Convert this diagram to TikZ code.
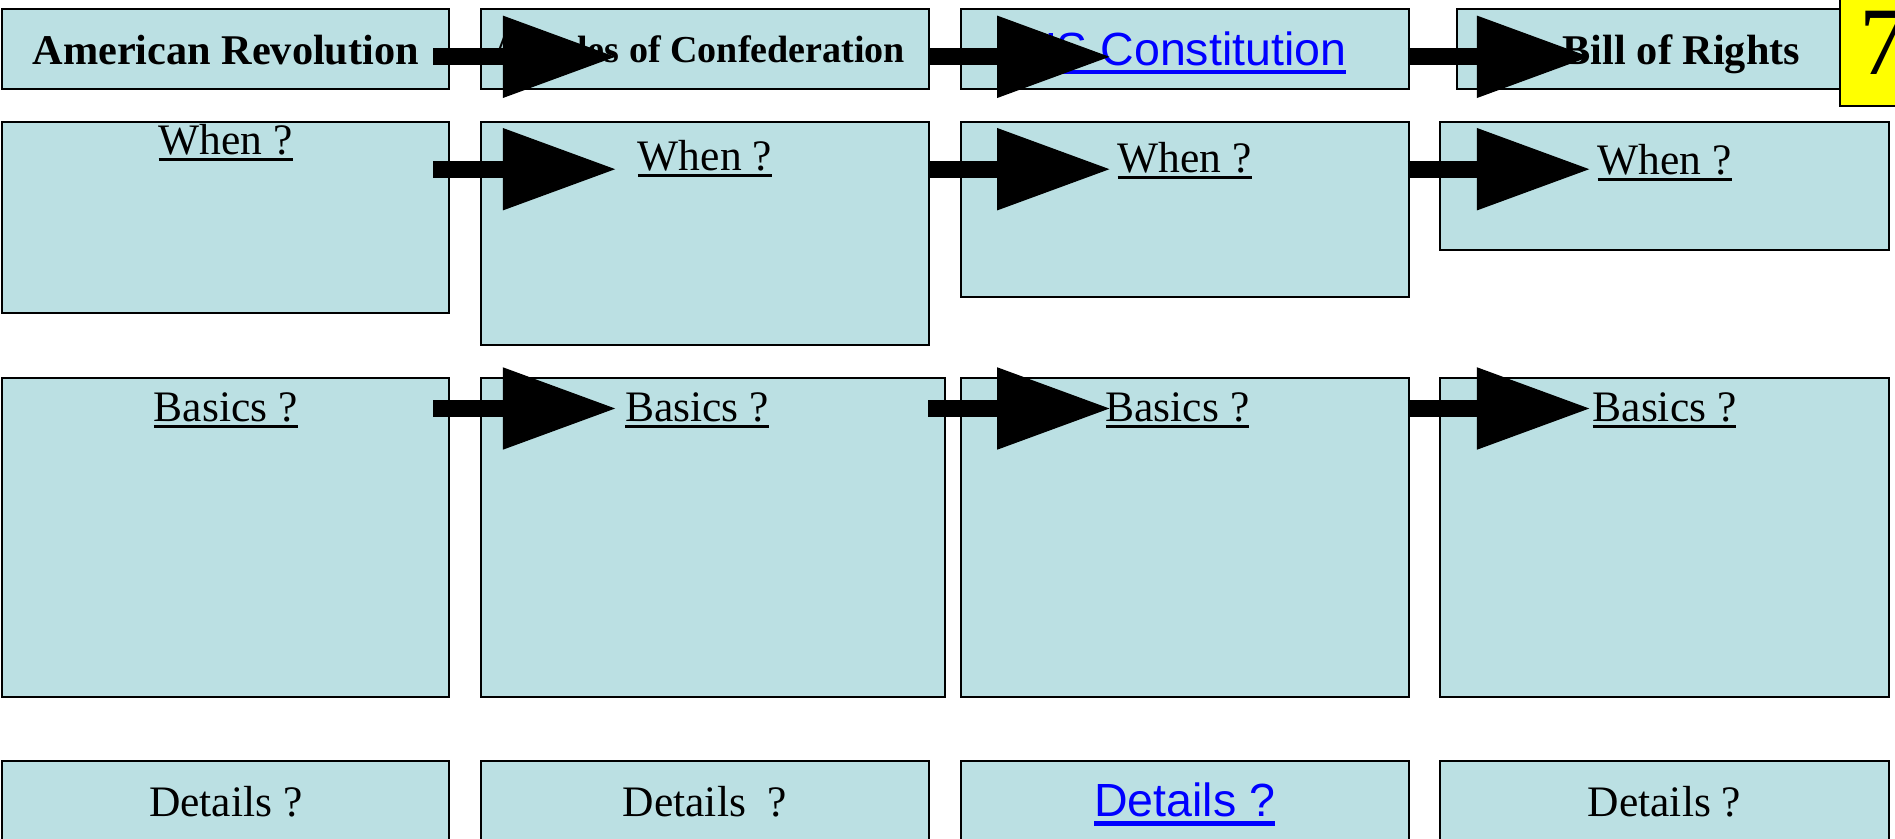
\documentclass[tikz,border=0pt]{standalone}
\usepackage{fontspec}
\setmainfont{Liberation Serif}
\newfontfamily\linkfont{Liberation Sans}
\usetikzlibrary{arrows.meta}
\definecolor{cellblue}{RGB}{187,224,227}
\definecolor{linkblue}{RGB}{0,0,255}
\definecolor{tagyellow}{RGB}{255,255,0}
\newcommand{\ulined}[1]{\setbox0\hbox{#1}\rlap{\rule[-5.5pt]{\wd0}{2.5pt}}\box0}
\newcommand{\ulinedlink}[1]{\setbox0\hbox{#1}\rlap{\rule[-7.5pt]{\wd0}{3.8pt}}\box0}

\begin{document}
\begin{tikzpicture}[x=1pt, y=-1pt,
    cell/.style={draw, line width=1.6pt, fill=cellblue, inner sep=0pt, anchor=north west},
    title/.style={font=\fontsize{35}{40}\selectfont\bfseries, anchor=base, inner sep=0pt},
    smalltitle/.style={title, font=\fontsize{31.5}{38}\selectfont\bfseries},
    prompt/.style={font=\fontsize{36}{40}\selectfont, anchor=base, inner sep=0pt},
    link/.style={font=\linkfont\fontsize{38.5}{42}\selectfont, text=linkblue, anchor=base, inner sep=0pt},
    bigarrow/.style={line width=14pt, -{Triangle[length=93pt, width=68pt, line width=1pt]}}]
    \useasboundingbox (0,0) rectangle (1568,694);
    % Title row
    \node[cell, minimum width=370pt, minimum height=66pt] (ar) at (1,7) {};
    \node[cell, minimum width=371pt, minimum height=66pt] (ac) at (397,7) {};
    \node[cell, minimum width=371pt, minimum height=66pt] (uc) at (794,7) {};
    \node[cell, minimum width=371pt, minimum height=66pt] (br) at (1205,7) {};
    \node[title] (ar-t) at ([shift={(0,46)}]ar.north) {American Revolution};
    \node[smalltitle] (ac-t) at ([shift={(-5,45)}]ac.north) {Articles of Confederation};
    \node[link] (uc-t) at ([shift={(0,47)}]uc.north) {\ulinedlink{US Constitution}};
    \node[title] (br-t) at ([shift={(0,46)}]br.north) {Bill of Rights};
    % When row
    \node[cell, minimum width=370pt, minimum height=158pt] (ar-when) at (1,100) {};
    \node[cell, minimum width=371pt, minimum height=185pt] (ac-when) at (397,100) {};
    \node[cell, minimum width=371pt, minimum height=145pt] (uc-when) at (794,100) {};
    \node[cell, minimum width=371pt, minimum height=106pt] (br-when) at (1191,100) {};
    \node[prompt] (ar-when-t) at ([shift={(0,28)}]ar-when.north) {\ulined{When ?}};
    \node[prompt] (ac-when-t) at ([shift={(0,41)}]ac-when.north) {\ulined{When ?}};
    \node[prompt] (uc-when-t) at ([shift={(0,43)}]uc-when.north) {\ulined{When ?}};
    \node[prompt] (br-when-t) at ([shift={(0,44)}]br-when.north) {\ulined{When ?}};
    % Basics row
    \node[cell, minimum width=370pt, minimum height=264pt] (ar-basics) at (1,312) {};
    \node[cell, minimum width=384pt, minimum height=264pt] (ac-basics) at (397,312) {};
    \node[cell, minimum width=371pt, minimum height=264pt] (uc-basics) at (794,312) {};
    \node[cell, minimum width=371pt, minimum height=264pt] (br-basics) at (1191,312) {};
    \node[prompt] (ar-basics-t) at ([shift={(0,37)}]ar-basics.north) {\ulined{Basics ?}};
    \node[prompt] (ac-basics-t) at ([shift={(-13,37)}]ac-basics.north) {\ulined{Basics ?}};
    \node[prompt] (uc-basics-t) at ([shift={(-6,37)}]uc-basics.north) {\ulined{Basics ?}};
    \node[prompt] (br-basics-t) at ([shift={(0,37)}]br-basics.north) {\ulined{Basics ?}};
    % Details row
    \node[cell, minimum width=370pt, minimum height=95pt] (ar-details) at (1,629) {};
    \node[cell, minimum width=371pt, minimum height=95pt] (ac-details) at (397,629) {};
    \node[cell, minimum width=371pt, minimum height=95pt] (uc-details) at (794,629) {};
    \node[cell, minimum width=371pt, minimum height=95pt] (br-details) at (1191,629) {};
    \node[prompt] (ar-details-t) at ([shift={(0,47)}]ar-details.north) {Details ?};
    \node[prompt] (ac-details-t) at ([shift={(0,47)}]ac-details.north) {Details\ \ ?};
    \node[link] (uc-details-t) at ([shift={(0,47)}]uc-details.north) {\ulinedlink{Details ?}};
    \node[prompt] (br-details-t) at ([shift={(0,47)}]br-details.north) {Details ?};
    % Arrows
    \draw[bigarrow] ([shift={(-14,40)}]ar.north east) -- ([shift={(112,40)}]ac.north west);
    \draw[bigarrow] ([shift={(-26,40)}]uc.north west) -- ([shift={(124,40)}]uc.north west);
    \draw[bigarrow] ([shift={(-40,40)}]br.north west) -- ([shift={(110,40)}]br.north west);
    \draw[bigarrow] ([shift={(-14,40)}]ar-when.north east) -- ([shift={(112,40)}]ac-when.north west);
    \draw[bigarrow] ([shift={(-26,40)}]uc-when.north west) -- ([shift={(124,40)}]uc-when.north west);
    \draw[bigarrow] ([shift={(-26,40)}]br-when.north west) -- ([shift={(124,40)}]br-when.north west);
    \draw[bigarrow] ([shift={(-14,26)}]ar-basics.north east) -- ([shift={(112,26)}]ac-basics.north west);
    \draw[bigarrow] ([shift={(-26,26)}]uc-basics.north west) -- ([shift={(124,26)}]uc-basics.north west);
    \draw[bigarrow] ([shift={(-26,26)}]br-basics.north west) -- ([shift={(124,26)}]br-basics.north west);
    % Page tag
    \node[draw, line width=1.6pt, fill=tagyellow, anchor=north west, minimum width=60pt, minimum height=90pt, inner sep=0pt] (tag) at (1522,-3) {};
    \node[font=\fontsize{80}{90}\selectfont, anchor=base west, inner sep=0pt] (tag-t) at (1538,62) {7};
\end{tikzpicture}
\end{document}
